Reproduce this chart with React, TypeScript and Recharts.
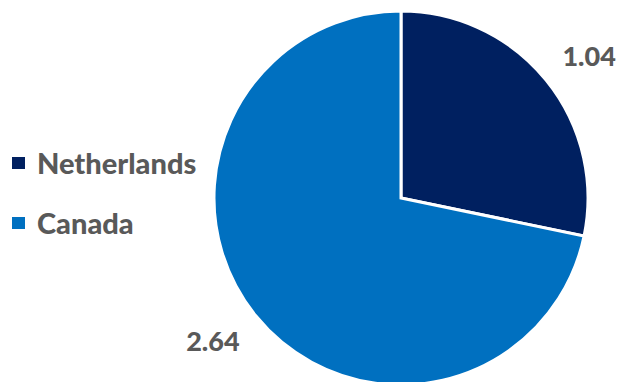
import { PieChart, Pie, Cell, Legend } from "recharts";

const countries = ["Netherlands", "Canada"];
const values = [1.04, 2.64];
const colors = ["#002060", "#0070C0"];

const data = countries.map((name, i) => ({ name, value: values[i] }));

const RADIAN = Math.PI / 180;

// value labels sit well outside the slices, nudged a little clockwise
const renderLabel = (props: any) => {
  const { cx, cy, midAngle, outerRadius, value } = props;
  const r = outerRadius + 49;
  const a = (midAngle - 2) * RADIAN;
  const x = cx + r * Math.cos(-a);
  const y = cy + r * Math.sin(-a);
  return (
    <text
      x={x}
      y={y}
      textAnchor="middle"
      dominantBaseline="central"
      fill="#595959"
      fontSize={27}
      fontWeight={900}
      fontFamily="Lato, sans-serif"
    >
      {value.toFixed(2)}
    </text>
  );
};

const renderLegend = () => (
  <div style={{ fontFamily: "Lato, sans-serif" }}>
    {countries.map((name, i) => (
      <div
        key={name}
        style={{
          display: "flex",
          alignItems: "center",
          height: 30,
          marginBottom: i === 0 ? 30 : 0,
        }}
      >
        <span
          style={{
            width: 13,
            height: 12,
            background: colors[i],
            display: "inline-block",
            marginRight: 12,
          }}
        />
        <span
          style={{
            color: "#595959",
            fontSize: 29,
            fontWeight: 900,
            lineHeight: "30px",
          }}
        >
          {name}
        </span>
      </div>
    ))}
  </div>
);

export default function App() {
  return (
    <div style={{ position: "absolute", left: 0, top: 0 }}>
      <PieChart
        width={623}
        height={382}
        margin={{ top: 0, right: 0, bottom: 0, left: 0 }}
      >
        <Legend
          content={renderLegend}
          layout="vertical"
          wrapperStyle={{ left: 12, top: 148, width: 220 }}
        />
        <Pie
          data={data}
          dataKey="value"
          cx={401}
          cy={198}
          outerRadius={187}
          startAngle={90}
          endAngle={-270}
          stroke="#ffffff"
          strokeWidth={3}
          label={renderLabel}
          labelLine={false}
          isAnimationActive={false}
        >
          {data.map((d, i) => (
            <Cell key={d.name} fill={colors[i]} />
          ))}
        </Pie>
      </PieChart>
    </div>
  );
}
